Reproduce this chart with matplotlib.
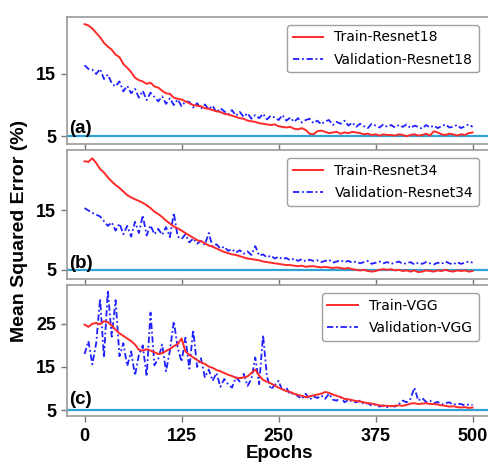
import numpy as np
import matplotlib
matplotlib.use("Agg")
import matplotlib.pyplot as plt

# epochs sampled every 5
epochs = np.arange(0, 501, 5)

train_r18 = [23.0, 22.8, 22.3, 21.6, 20.9, 20.0, 19.4, 18.9, 18.1, 17.7,
             16.6, 16.0, 15.3, 14.4, 14.0, 13.8, 13.4, 13.6, 13.0, 12.8,
             12.3, 11.9, 11.8, 11.2, 11.0, 10.9, 10.6, 10.3, 10.0, 9.9,
             9.8, 9.5, 9.4, 9.2, 9.0, 8.9, 8.6, 8.5, 8.3, 8.1,
             7.9, 7.8, 7.5, 7.4, 7.3, 7.1, 7.0, 6.9, 6.8, 6.9,
             6.6, 6.5, 6.4, 6.5, 6.2, 6.1, 6.3, 6.0, 5.4, 5.3,
             5.8, 5.9, 5.7, 5.5, 5.6, 5.7, 5.4, 5.6, 5.5, 5.7,
             5.6, 5.5, 5.3, 5.4, 5.2, 5.3, 5.1, 5.3, 5.2, 5.2,
             5.1, 5.3, 5.2, 5.0, 5.2, 5.3, 5.1, 5.2, 5.4, 5.1,
             5.8, 5.6, 5.3, 5.2, 5.4, 5.3, 5.1, 5.3, 5.2, 5.5,
             5.6]
val_r18 = [16.4, 15.8, 15.7, 15.0, 15.8, 14.2, 14.9, 13.5, 13.0, 13.8,
           12.2, 13.1, 11.9, 12.6, 11.2, 12.3, 10.8, 12.0, 11.3, 10.6,
           11.4, 10.2, 11.1, 10.0, 10.9, 9.8, 10.6, 10.5, 9.6, 10.3,
           9.4, 10.1, 9.3, 9.9, 8.8, 9.5, 9.0, 8.5, 9.2, 8.3,
           8.9, 8.1, 8.7, 7.8, 8.4, 7.9, 8.6, 7.7, 8.3, 8.0,
           7.6, 8.4, 7.5, 8.0, 7.3, 7.9, 7.2, 7.6, 7.8, 7.1,
           7.5, 6.9, 7.4, 7.6, 6.8, 7.3, 7.0, 7.5, 6.7, 7.2,
           6.5, 7.0, 6.6, 6.3, 7.0, 6.7, 6.4, 6.9, 6.5, 6.8,
           6.4, 6.8, 6.5, 6.9, 6.3, 6.7, 6.5, 6.2, 6.8, 6.4,
           6.7, 6.3, 6.6, 6.9, 6.4, 6.5, 6.8, 6.3, 6.6, 6.9,
           6.5]

train_r34 = [23.3, 23.2, 23.8, 23.0, 22.0, 21.4, 20.6, 19.9, 19.3, 18.8,
             18.2, 17.6, 17.2, 16.9, 16.6, 16.3, 15.9, 15.4, 14.8, 14.4,
             13.9, 13.3, 12.8, 12.3, 12.0, 11.6, 11.2, 10.8, 10.4, 10.0,
             9.8, 9.5, 9.1, 8.9, 8.6, 8.3, 8.0, 7.8, 7.6, 7.5,
             7.3, 7.1, 6.9, 6.8, 6.7, 6.6, 6.4, 6.3, 6.2, 6.1,
             6.0, 5.9, 5.8, 5.8, 5.7, 5.6, 5.7, 5.5, 5.6, 5.6,
             5.5, 5.4, 5.5, 5.4, 5.3, 5.4, 5.3, 5.2, 5.3, 5.1,
             5.0, 4.9, 5.0, 4.8, 4.7, 4.8, 5.0, 5.1, 5.0, 5.1,
             4.9, 5.0, 4.8, 4.9, 4.7, 4.9, 4.6, 4.7, 4.9, 4.8,
             4.7, 4.9, 4.8, 5.0, 4.8, 4.7, 4.9, 4.8, 4.9, 4.7,
             4.8]
val_r34 = [15.4, 15.0, 14.6, 14.3, 14.0, 13.2, 12.4, 13.0, 11.6, 12.8,
           11.0, 12.4, 10.6, 13.1, 11.2, 14.2, 10.8, 12.5, 11.0, 11.9,
           10.9, 12.2, 10.5, 14.6, 10.6, 10.2, 11.0, 9.6, 10.3, 9.4,
           9.9, 9.2, 11.2, 8.9, 9.3, 8.6, 8.9, 8.2, 8.5, 7.9,
           8.3, 7.7, 8.1, 7.5, 9.0, 7.4, 7.6, 7.1, 7.4, 6.9,
           7.2, 6.8, 7.0, 6.6, 6.9, 6.5, 6.8, 6.4, 6.7, 6.5,
           6.6, 6.3, 6.5, 6.7, 6.2, 6.4, 6.6, 6.3, 6.5, 6.2,
           6.4, 6.1, 6.3, 6.5, 6.0, 6.2, 6.4, 6.1, 6.3, 6.0,
           6.2, 6.4, 6.0, 6.1, 6.3, 5.9, 6.2, 6.0, 6.3, 6.1,
           5.9, 6.2, 6.0, 6.4, 6.1, 5.9, 6.3, 6.0, 6.2, 6.4,
           6.2]

train_vgg = [24.8, 24.3, 25.0, 25.2, 24.9, 25.6, 25.4, 24.6, 23.6, 22.8,
             22.2, 21.6, 21.0, 20.2, 19.0, 18.8, 19.1, 18.8, 18.4, 18.0,
             18.2, 18.7, 19.2, 19.8, 20.3, 21.6, 18.6, 17.8, 17.2, 16.6,
             16.1, 15.7, 15.1, 14.8, 14.3, 14.0, 13.6, 13.2, 12.9, 12.5,
             12.4, 12.6, 12.8, 13.6, 14.4, 13.0, 12.0, 11.6, 11.2, 10.7,
             10.2, 9.8, 9.4, 9.2, 8.8, 8.5, 8.3, 8.0, 8.2, 8.4,
             8.6, 8.8, 9.2, 9.0, 8.6, 8.3, 8.0, 7.6, 7.5, 7.3,
             7.1, 7.0, 6.8, 6.6, 6.5, 6.3, 6.1, 6.0, 6.0, 5.9,
             6.0, 6.1, 6.0, 6.2, 6.5, 6.6, 6.4, 6.5, 6.6, 6.4,
             6.4, 6.3, 6.1, 6.0, 5.8, 5.9, 5.7, 5.6, 5.7, 5.5,
             5.6]
val_vgg = [18.0, 21.0, 15.6, 20.5, 30.8, 17.2, 32.8, 22.0, 30.5, 17.5,
           20.5, 15.2, 18.6, 13.0, 17.8, 20.0, 12.8, 27.6, 15.4, 16.9,
           20.2, 14.0, 18.8, 25.6, 19.5, 16.2, 21.8, 14.6, 23.6, 15.0,
           17.0, 12.6, 14.4, 11.8, 13.6, 10.4, 12.2, 11.0, 10.2, 12.6,
           11.6, 13.4, 10.6, 12.2, 17.2, 11.0, 22.4, 12.8, 9.8, 10.8,
           11.8, 9.4, 10.2, 8.6, 9.0, 8.2, 7.6, 8.8, 7.4, 8.2,
           7.8, 8.4, 7.6, 8.8, 7.4, 7.2, 8.0, 6.8, 7.4, 7.0,
           6.8, 7.2, 6.4, 6.6, 6.0, 6.3, 5.8, 6.1, 5.7, 6.0,
           5.8, 6.4, 7.2, 6.8, 7.6, 10.2, 7.2, 7.8, 6.9, 7.2,
           6.6, 6.9, 6.3, 6.6, 6.8, 6.2, 6.5, 6.4, 6.1, 6.3,
           6.2]

panels = [
    ("(a)", "Train-Resnet18", "Validation-Resnet18", train_r18, val_r18, [5, 15], (3.7, 24.2)),
    ("(b)", "Train-Resnet34", "Validation-Resnet34", train_r34, val_r34, [5, 15], (3.4, 25.2)),
    ("(c)", "Train-VGG", "Validation-VGG", train_vgg, val_vgg, [5, 15, 25], (3.7, 34.0)),
]
xticks = [0, 125, 250, 375, 500]

W, H = 489, 465
fig = plt.figure(figsize=(W / 100, H / 100), dpi=100)

# axes boxes in pixels: (top, bottom)
boxes = [(16.7, 144.3), (150, 279.3), (285, 415.7)]
left_px, right_px = 66.7, 492

bold = dict(family="Liberation Sans", weight="bold")

for i, (tag, lt, lv, tr, va, yt, yl) in enumerate(panels):
    top, bot = boxes[i]
    ax = fig.add_axes([left_px / W, 1 - bot / H, (right_px - left_px) / W, (bot - top) / H])
    ax.axhline(5, color="#2ea3d6", lw=1.6, zorder=1)
    ax.plot(epochs, tr, color="#ff2a2a", lw=1.4, label=lt, zorder=3)
    ax.plot(epochs, va, color="#2020ff", lw=1.3, ls=(0, (3.5, 1.5, 1, 1.5)), label=lv, zorder=2)
    ax.set_xlim(-23, 525)
    ax.set_ylim(*yl)
    ax.set_yticks(yt)
    ax.set_xticks(xticks)
    for s in ax.spines.values():
        s.set_color("#999999")
        s.set_linewidth(1.2)
    ax.tick_params(colors="#777777", length=4, width=1)
    ax.set_yticklabels([str(v) for v in yt], color="black", fontsize=13, **bold)
    if i < 2:
        ax.set_xticklabels([])
    else:
        ax.set_xticklabels([str(v) for v in xticks], color="black", fontsize=13, **bold)
        ax.tick_params(axis="x", pad=5)
        ax.set_xlabel("Epochs", fontsize=13.5, labelpad=0, **bold)
    ax.text(0.006, 0.09, tag, transform=ax.transAxes, fontsize=13.5, **bold)
    leg = ax.legend(loc="upper right", bbox_to_anchor=(0.985, 0.99),
                    handlelength=2.2, frameon=True, fancybox=True, borderpad=0.4,
                    labelspacing=0.6, prop={"family": "DejaVu Sans", "size": 10})
    leg.get_frame().set_edgecolor("#888888")

fig.text(20 / W, 1 - 231 / H, "Mean Squared Error (%)", rotation=90, va="center", ha="center",
         fontsize=14, **bold)

fig.savefig("out.png", dpi=100)
